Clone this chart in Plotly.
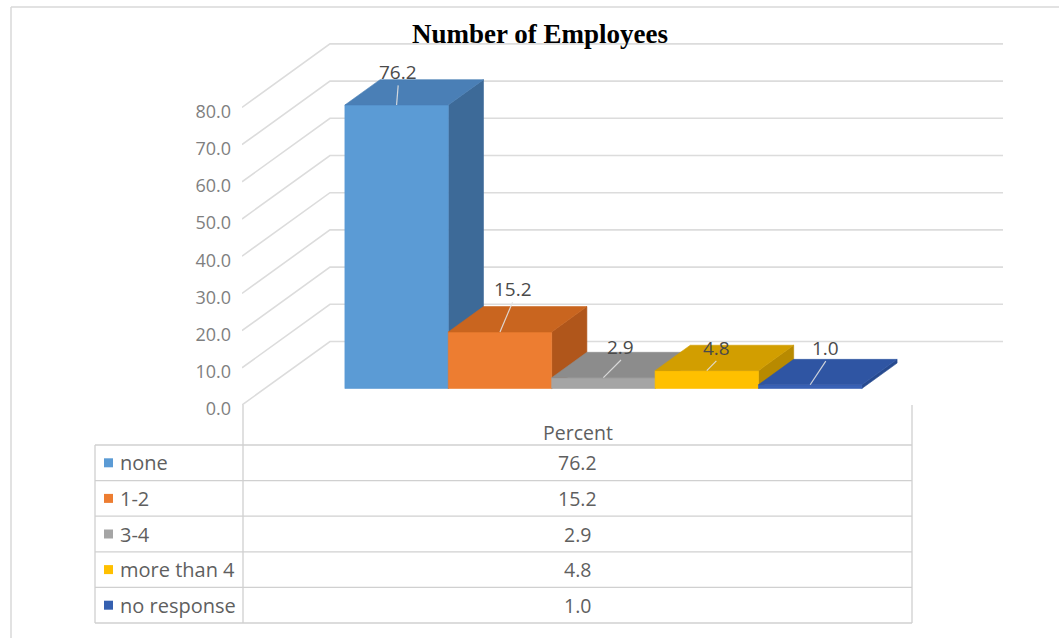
import plotly.graph_objects as go

# ---- data -------------------------------------------------------------
CATEGORIES = ["none", "1-2", "3-4", "more than 4", "no response"]
PERCENT = [76.2, 15.2, 2.9, 4.8, 1.0]
Y_TICKS = [0, 10, 20, 30, 40, 50, 60, 70, 80]
TITLE = "Number of Employees"
TABLE_HEADER = "Percent"

# ---- styling ----------------------------------------------------------
FRONT = ["#5B9BD5", "#ED7D31", "#A5A5A5", "#FFC000", "#3A62B5"]
TOP = ["#4A7FB6", "#C9651F", "#8C8C8C", "#D29E00", "#2F55A3"]
SIDE = ["#3D6A98", "#B0561B", "#7A7A7A", "#B88A00", "#274A8F"]
KEY = ["#5B9BD5", "#ED7D31", "#A5A5A5", "#FFC000", "#3560B0"]
GRID = "#DCDCDC"
TEXT_GRAY = "#7F7F7F"
LABEL_GRAY = "#4A4A4A"
TABLE_TEXT = "#5F5F5F"
FONT = "Open Sans"

# ---- geometry of the oblique 3-D view (pixels) ------------------------
W, H = 1059, 638
PLOT_L, PLOT_B = 242, 405          # left / bottom edge of the plotting area
PX_PER_CAT = 103.4                 # width of one column
PX_PER_UNIT = 3.72                 # vertical pixels per percent
ORIGIN_PX = 322                    # pixel x of category coordinate 0 (front plane)
DEPTH_PX = (88.0, 63.5)            # projection of full depth (right, up)
BAR_Z = (0.26, 0.66)               # depth slab occupied by the columns
WALL_X = (-0.774, 5.735)           # horizontal extent of the walls (category units)
# per-label offsets from the top-face centre, in pixels (right, up)
LABEL_SHIFT = [(-16, 20), (-5, 30), (0, 18), (-8, 10), (-2, 24)]

DZX = DEPTH_PX[0] / PX_PER_CAT
DZY = DEPTH_PX[1] / PX_PER_UNIT


def proj(x, z, v):
    """Oblique projection of (category x, depth z, value v) into axis units."""
    return x + z * DZX, v + z * DZY


def poly(points):
    xs, ys = zip(*[proj(*p) for p in points])
    return list(xs) + [xs[0]], list(ys) + [ys[0]]


fig = go.Figure()

# side-wall and back-wall gridlines
gx, gy = [], []
for v in Y_TICKS:
    for p in [(WALL_X[0], 0, v), (WALL_X[0], 1, v), (WALL_X[1], 1, v)]:
        x, y = proj(*p)
        gx.append(x)
        gy.append(y)
    gx.append(None)
    gy.append(None)
fig.add_trace(go.Scatter(x=gx, y=gy, mode="lines",
                         line=dict(color=GRID, width=1.6),
                         hoverinfo="skip", showlegend=False))

# columns, painted left to right so nearer faces overlap correctly
z0, z1 = BAR_Z
for i, v in enumerate(PERCENT):
    x0, x1 = i, i + 1
    faces = [
        ([(x1, z0, 0), (x1, z1, 0), (x1, z1, v), (x1, z0, v)], SIDE[i]),
        ([(x0, z0, 0), (x1, z0, 0), (x1, z0, v), (x0, z0, v)], FRONT[i]),
        ([(x0, z0, v), (x1, z0, v), (x1, z1, v), (x0, z1, v)], TOP[i]),
    ]
    for pts, col in faces:
        xs, ys = poly(pts)
        fig.add_trace(go.Scatter(x=xs, y=ys, mode="lines", fill="toself",
                                 fillcolor=col, line=dict(color=col, width=0.6),
                                 hoverinfo="skip", showlegend=False,
                                 name=CATEGORIES[i]))

# data labels with leader lines
for i, v in enumerate(PERCENT):
    cx, cy = proj(i + 0.5, (z0 + z1) / 2, v)
    dx, dy = LABEL_SHIFT[i]
    lx = cx + dx / PX_PER_CAT
    ly = cy + dy / PX_PER_UNIT
    fx, fy = proj(i + 0.5, z0, v)
    fig.add_trace(go.Scatter(x=[fx, lx], y=[fy, ly - 13 / PX_PER_UNIT],
                             mode="lines",
                             line=dict(color="rgba(225,225,225,0.9)", width=1.2),
                             hoverinfo="skip", showlegend=False))
    fig.add_annotation(x=lx, y=ly, xref="x", yref="y", text=f"{v:.1f}",
                       showarrow=False, xanchor="center", yanchor="middle",
                       font=dict(family=FONT, size=19, color=LABEL_GRAY))

# ---- data table below the plot (paper coordinates) --------------------
PLOT_W = W - PLOT_L


def px(xp):
    return (xp - PLOT_L) / PLOT_W


def py(yp):
    return (PLOT_B - yp) / PLOT_B


TAB_L, TAB_DIV, TAB_R = 95, 243, 912
TAB_TOP, ROW_H = 445, 35.6
line_style = dict(color="#D0D0D0", width=1.3)
shapes = []
n = len(CATEGORIES)
for r in range(n + 1):
    yy = TAB_TOP + r * ROW_H
    shapes.append(dict(type="line", xref="paper", yref="paper",
                       x0=px(TAB_L), x1=px(TAB_R), y0=py(yy), y1=py(yy),
                       line=line_style))
bottom = TAB_TOP + n * ROW_H
shapes.append(dict(type="line", xref="paper", yref="paper",
                   x0=px(TAB_L), x1=px(TAB_L), y0=py(TAB_TOP), y1=py(bottom),
                   line=line_style))
for xx in (TAB_DIV, TAB_R):
    shapes.append(dict(type="line", xref="paper", yref="paper",
                       x0=px(xx), x1=px(xx), y0=py(PLOT_B), y1=py(bottom),
                       line=line_style))

annotations = [dict(x=px((TAB_DIV + TAB_R) / 2), y=py(TAB_TOP - 13),
                    xref="paper", yref="paper", text=TABLE_HEADER,
                    showarrow=False, xanchor="center", yanchor="middle",
                    font=dict(family=FONT, size=19.5, color=TABLE_TEXT))]
for r, (cat, val) in enumerate(zip(CATEGORIES, PERCENT)):
    yc = TAB_TOP + (r + 0.5) * ROW_H
    shapes.append(dict(type="rect", xref="paper", yref="paper",
                       x0=px(104), x1=px(113), y0=py(yc - 4.5), y1=py(yc + 4.5),
                       fillcolor=KEY[r], line=dict(width=0)))
    annotations.append(dict(x=px(118), y=py(yc), xref="paper", yref="paper",
                            text=cat, showarrow=False, xanchor="left",
                            yanchor="middle",
                            font=dict(family=FONT, size=20, color=TABLE_TEXT)))
    annotations.append(dict(x=px((TAB_DIV + TAB_R) / 2), y=py(yc),
                            xref="paper", yref="paper", text=f"{val:.1f}",
                            showarrow=False, xanchor="center", yanchor="middle",
                            font=dict(family=FONT, size=19.5, color=TABLE_TEXT)))

# chart frame (left and top edges)
shapes.append(dict(type="line", xref="paper", yref="paper",
                   x0=px(11), x1=px(11), y0=py(7), y1=py(H),
                   line=dict(color="#D9D9D9", width=1.5)))
shapes.append(dict(type="line", xref="paper", yref="paper",
                   x0=px(11), x1=px(W), y0=py(7), y1=py(7),
                   line=dict(color="#D9D9D9", width=1.5)))

for a in annotations:
    fig.add_annotation(**a)

fig.update_layout(
    width=W, height=H, autosize=False,
    margin=dict(l=PLOT_L, r=0, t=0, b=H - PLOT_B, pad=0),
    paper_bgcolor="white", plot_bgcolor="rgba(0,0,0,0)",
    shapes=shapes,
    title=dict(text=f"<b>{TITLE}</b>", x=540 / W, xanchor="center",
               y=1 - 34 / H, yanchor="middle", xref="container", yref="container",
               font=dict(family="Liberation Serif", size=27, color="#000000")),
    xaxis=dict(range=[(PLOT_L - ORIGIN_PX) / PX_PER_CAT, (W - ORIGIN_PX) / PX_PER_CAT],
               visible=False, fixedrange=True),
    yaxis=dict(range=[0, PLOT_B / PX_PER_UNIT], tickvals=Y_TICKS,
               ticktext=[f"{t:.1f}" for t in Y_TICKS], showgrid=False,
               zeroline=False, showline=False, ticks="", ticklabelstandoff=10,
               ticklabelshift=4,
               tickfont=dict(family=FONT, size=18, color=TEXT_GRAY),
               fixedrange=True),
    showlegend=False,
)

fig.write_html("out.html")
